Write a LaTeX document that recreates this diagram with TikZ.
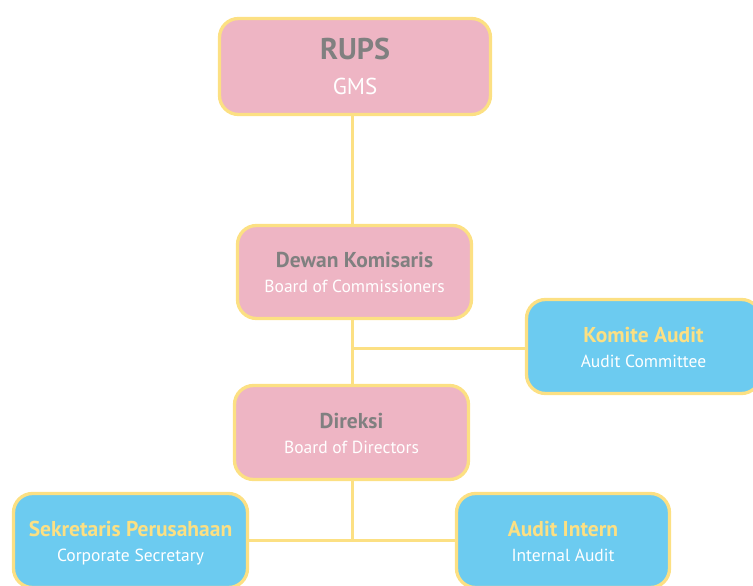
\documentclass[tikz,border=0pt]{standalone}
\usepackage{fontspec}
\setmainfont{PT Sans}
\definecolor{pinkfill}{HTML}{EEB5C4}
\definecolor{bluefill}{HTML}{6CCBF0}
\definecolor{ylw}{HTML}{FCE083}
\definecolor{txtgray}{HTML}{808080}
\tikzset{
  box/.style={draw=ylw, line width=3.3pt, rounded corners=19pt, inner sep=0pt},
  pinkbox/.style={box, fill=pinkfill},
  bluebox/.style={box, fill=bluefill},
  conn/.style={draw=ylw, line width=3pt},
  ttl/.style={anchor=base, inner sep=0pt, font=\fontsize{21.5}{24}\selectfont\bfseries},
  sub/.style={anchor=base, inner sep=0pt, text=white, font=\fontsize{17.5}{20}\selectfont},
}
\begin{document}
\begin{tikzpicture}[x=1pt,y=-1pt]
\useasboundingbox (0,0) rectangle (753,586);
\clip (0,0) rectangle (753,586);
\node[pinkbox, minimum width=271pt, minimum height=96pt] (rups) at (355,66.5) {};
\node[pinkbox, minimum width=234pt, minimum height=93pt] (dewan) at (354.5,272) {};
\node[bluebox, minimum width=234pt, minimum height=94pt] (komite) at (643.5,346.5) {};
\node[pinkbox, minimum width=234pt, minimum height=94pt] (direksi) at (351.5,432.5) {};
\node[bluebox, minimum width=234pt, minimum height=94pt] (sek) at (130.5,540.5) {};
\node[bluebox, minimum width=213pt, minimum height=94pt] (intern) at (563,540.5) {};

\node[ttl, text=txtgray, font=\fontsize{30}{32}\selectfont\bfseries] (t1) at ([yshift=6.5pt]rups.center) {RUPS};
\node[sub, font=\fontsize{23}{24}\selectfont] (s1) at ([yshift=-28.5pt]rups.center) {GMS};
\node[ttl, text=txtgray] (t2) at ([yshift=4.5pt]dewan.center) {Dewan Komisaris};
\node[sub] (s2) at ([yshift=-20.5pt]dewan.center) {Board of Commissioners};
\node[ttl, text=ylw] (t3) at ([yshift=4.5pt]komite.center) {Komite Audit};
\node[sub] (s3) at ([yshift=-20.5pt]komite.center) {Audit Committee};
\node[ttl, text=txtgray] (t4) at ([yshift=4.5pt]direksi.center) {Direksi};
\node[sub] (s4) at ([yshift=-20.5pt]direksi.center) {Board of Directors};
\node[ttl, text=ylw] (t5) at ([yshift=4.5pt]sek.center) {Sekretaris Perusahaan};
\node[sub] (s5) at ([yshift=-20.5pt]sek.center) {Corporate Secretary};
\node[ttl, text=ylw] (t6) at ([yshift=4.5pt]intern.center) {Audit Intern};
\node[sub] (s6) at ([yshift=-20.5pt]intern.center) {Internal Audit};

\coordinate (spine) at (352,0);
\coordinate (j1) at (spine |- 0,348);
\draw[conn] (rups.south -| spine) -- (dewan.north -| spine);
\draw[conn] (dewan.south -| spine) -- (direksi.north -| spine);
\draw[conn] (j1) -- (j1 -| komite.west);
\draw[conn] (direksi.south -| spine) -- (sek.east -| spine);
\draw[conn] (sek.east) -- (intern.west);
\end{tikzpicture}
\end{document}
